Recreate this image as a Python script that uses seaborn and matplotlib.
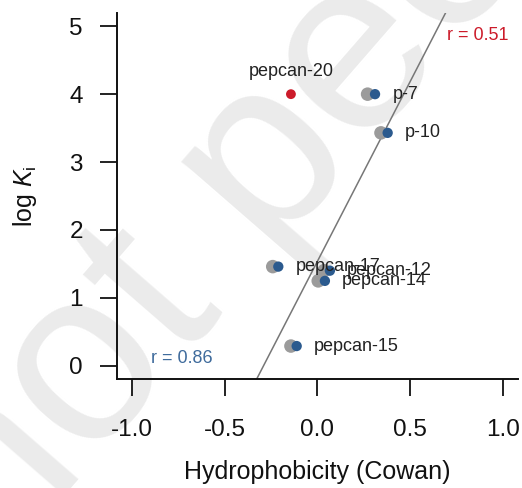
import matplotlib
matplotlib.use("Agg")
import matplotlib.pyplot as plt
import seaborn as sns
import pandas as pd

# values
peptides = ["p-7", "p-10", "pepcan-12", "pepcan-14", "pepcan-15", "pepcan-17"]
hyd_grey = [0.270, 0.342, 0.035, 0.004, -0.143, -0.241]
hyd_blue = [0.310, 0.378, 0.067, 0.040, -0.112, -0.211]
log_ki = [4.00, 3.43, 1.40, 1.25, 0.29, 1.46]

outlier_name = "pepcan-20"
outlier_x = -0.143
outlier_y = 4.00

fit_intercept = 1.54
fit_slope = 5.3

r_all = "r = 0.51"
r_sub = "r = 0.86"

grey = "#9b9b9b"
blue = "#2b5a8e"
red = "#cc1b2a"

df = pd.DataFrame({"peptide": peptides, "x_grey": hyd_grey, "x_blue": hyd_blue, "logki": log_ki})

sns.set_style("ticks")
plt.rcParams["font.family"] = ["Liberation Sans", "DejaVu Sans"]
plt.rcParams["mathtext.fontset"] = "custom"
plt.rcParams["mathtext.rm"] = "Liberation Sans"
plt.rcParams["mathtext.it"] = "Liberation Sans:italic"

fig = plt.figure(figsize=(5.22, 4.88), dpi=100)
ax = fig.add_axes([0.2241, 0.2227, 0.9923 - 0.2241, 0.974 - 0.2227])
ax.patch.set_alpha(0)

# watermark
fig.text(0.0, -0.17, "not peer-reviewed", fontsize=178, color="#ebebeb",
         rotation=49, rotation_mode="anchor", ha="left", va="baseline", zorder=-1)

ax.axline((0, fit_intercept), slope=fit_slope, color="#777777", lw=1.1, zorder=1)

sns.scatterplot(data=df, x="x_grey", y="logki", color=grey, s=95, edgecolor="none", ax=ax, zorder=2)
sns.scatterplot(data=df, x="x_blue", y="logki", color=blue, s=55, edgecolor="none", ax=ax, zorder=3)
sns.scatterplot(x=[outlier_x], y=[outlier_y], color=red, s=50, edgecolor="none", ax=ax, zorder=3)

for _, row in df.iterrows():
    ax.annotate(row["peptide"], (row["x_blue"], row["logki"]), xytext=(12.5, 0),
                textcoords="offset points", ha="left", va="center", fontsize=13, color="#222222")
ax.annotate(outlier_name, (outlier_x, outlier_y), xytext=(0, 16.3),
            textcoords="offset points", ha="center", va="center", fontsize=13, color="#222222")

ax.text(0.695, 4.86, r_all, color=red, fontsize=13, ha="left", va="center")
ax.text(-0.898, 0.10, r_sub, color="#3f6b9c", fontsize=13, ha="left", va="center")

ax.set_xlim(-1.08, 1.08)
ax.set_ylim(-0.2, 5.2)
ax.set_xticks([-1.0, -0.5, 0.0, 0.5, 1.0])
ax.set_xticklabels(["-1.0", "-0.5", "0.0", "0.5", "1.0"])
ax.set_yticks([0, 1, 2, 3, 4, 5])
sns.despine(ax=ax)
for s in ["left", "bottom"]:
    ax.spines[s].set_linewidth(1.4)
    ax.spines[s].set_color("#111111")
ax.tick_params(axis="both", length=12.5, width=1.3, color="#111111", labelsize=17.5, labelcolor="#111111")
ax.tick_params(axis="x", pad=16)
ax.tick_params(axis="y", pad=12)

ax.set_xlabel("Hydrophobicity (Cowan)", fontsize=18, labelpad=14, color="#111111")
ax.set_ylabel(r"log $\mathit{K}_\mathrm{i}$", fontsize=18, labelpad=22, color="#111111")

fig.savefig("out.png", dpi=100)
